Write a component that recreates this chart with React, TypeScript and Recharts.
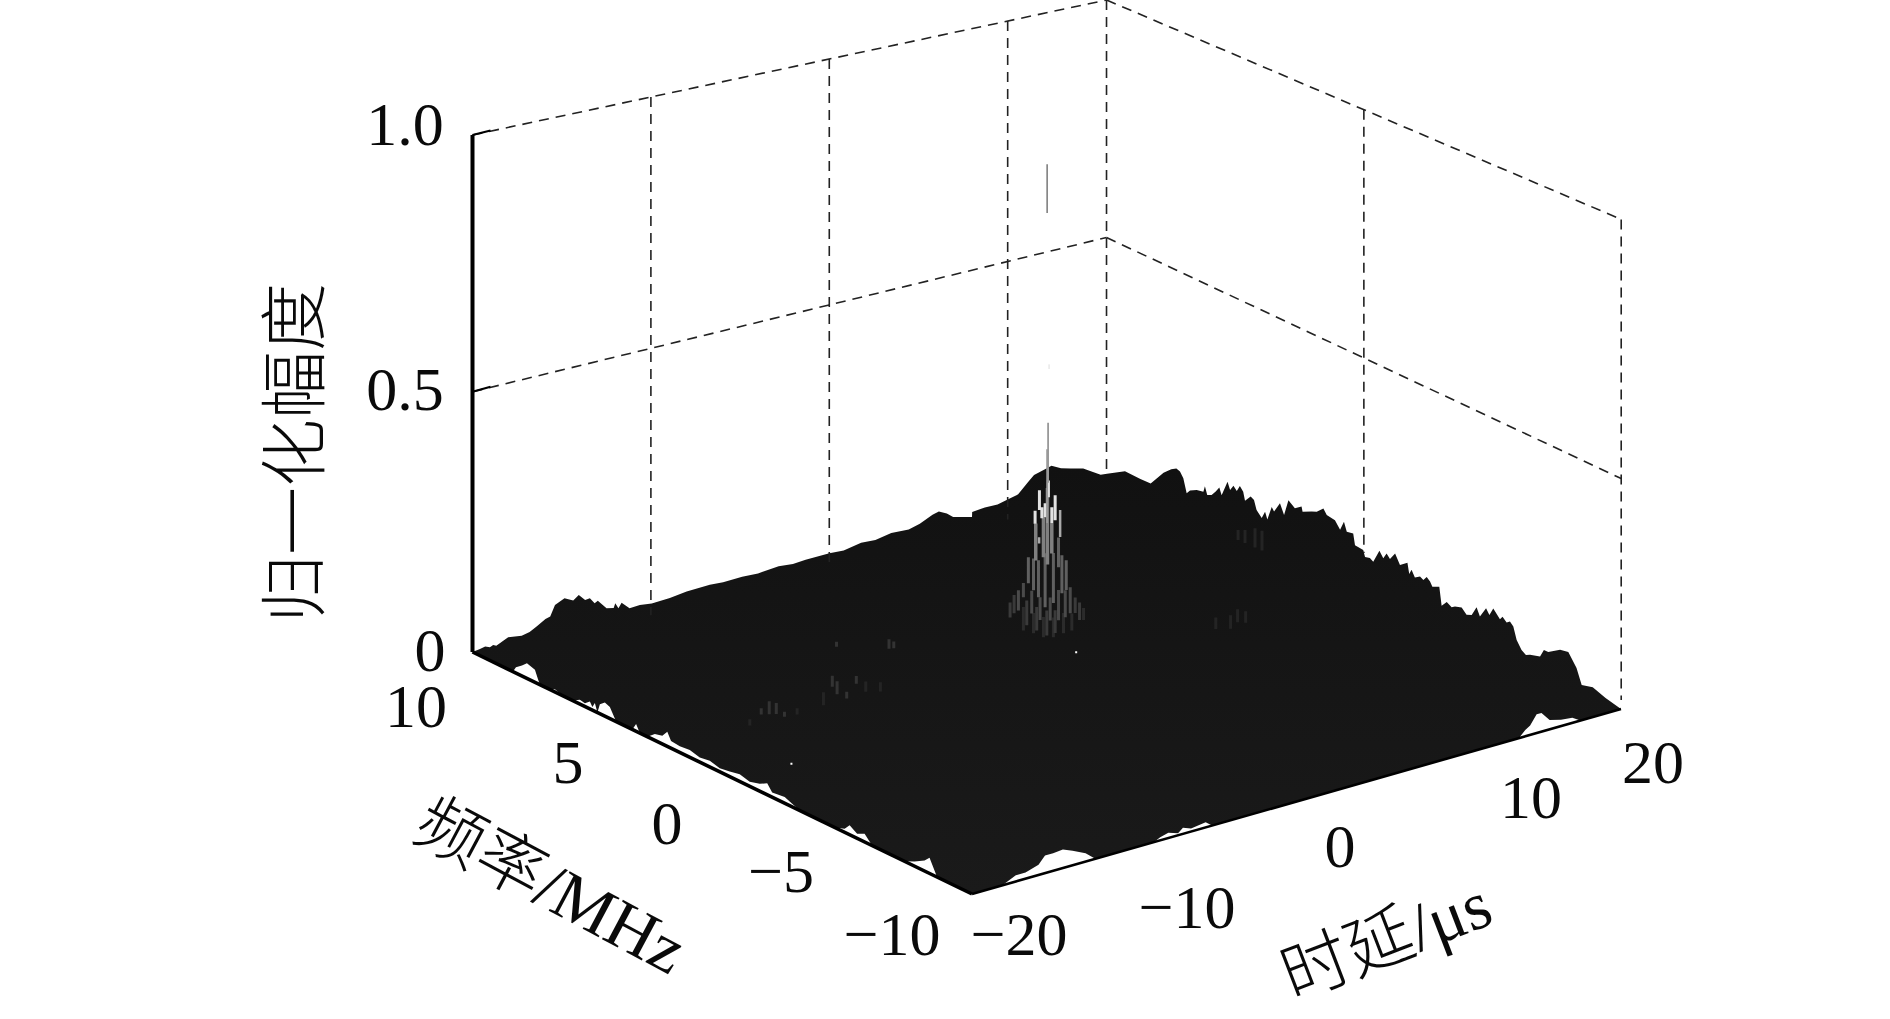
import React from 'react';
import { ComposedChart, XAxis, YAxis, Area, Line, Scatter } from 'recharts';

// ---- data (delay in µs, frequency in MHz, normalised amplitude) ----
const ridgeBackLeft: [number, number][] = [
  [-20, 0], [-19.53, 0.002], [-19.2, 0.004], [-18.9, 0], [-18.7, 0.003], [-18.5, 0], [-18.06, 0.006], [-17.75, 0.01], [-16.9, 0.006],
  [-16.4, 0.009], [-15.96, 0.016], [-15.4, 0.026], [-15.1, 0.028], [-14.8, 0.048], [-14.2, 0.056], [-13.65, 0.047], [-13.3, 0.055],
  [-12.9, 0.042], [-12.6, 0.043], [-12.3, 0.031], [-12.1, 0.034], [-11.55, 0.015], [-11.1, 0.012], [-11, 0.02], [-10.8, 0.009],
  [-10.6, 0.018], [-10.1, 0.003], [-9.45, 0.004], [-8.7, 0.001], [-7.56, 0.002], [-6.5, 0.006], [-5.04, 0.007], [-4.2, 0.005],
  [-3, 0.006], [-2, 0.004], [-0.7, 0.007], [0.2, 0.004], [1, 0.006], [2.5, 0.006], [3.4, 0.004], [4.5, 0.01], [5.4, 0.008], [6.4, 0.013],
  [7.5, 0.011], [8.2, 0.016], [9.0, 0.027], [9.4, 0.03], [9.9, 0.022], [10.3, 0.012], [11.5, 0.012], [12.3, 0.014], [13.1, 0.013],
  [13.8, 0.018], [14.4, 0.022], [15.0, 0.04], [15.4, 0.051], [16, 0.056], [16.5, 0.06], [17.1, 0.05], [17.7, 0.045], [18.5, 0.038], [19.6, 0.017], [20, 0.016],
];
const ridgeBackRight: [number, number][] = [
  [9.3, 0.036], [8.7, 0.034], [8.3, 0.034], [7.8, 0.066], [7.5, 0.079], [7.3, 0.085], [7.16, 0.082], [7.03, 0.072], [6.9, 0.046], [6.77, 0.054], [6.51, 0.061],
  [6.25, 0.063], [6.19, 0.075], [6.1, 0.06], [5.93, 0.064], [5.77, 0.074], [5.63, 0.085], [5.54, 0.072], [5.31, 0.103], [5.21, 0.089],
  [5.08, 0.1], [4.95, 0.093], [4.83, 0.105], [4.7, 0.097], [4.63, 0.081], [4.41, 0.094], [4.28, 0.09], [4.18, 0.073], [3.98, 0.062],
  [3.85, 0.077], [3.76, 0.064], [3.59, 0.092], [3.5, 0.085], [3.27, 0.106], [3.11, 0.087], [2.94, 0.119], [2.69, 0.109], [2.43, 0.118],
  [2.39, 0.109], [2.04, 0.117], [1.84, 0.121], [1.58, 0.133], [1.45, 0.123], [1.13, 0.12], [0.93, 0.106], [0.78, 0.125], [0.67, 0.108],
  [0.42, 0.11], [0.35, 0.089], [0.03, 0.087], [-0.04, 0.075], [-0.23, 0.077], [-0.36, 0.073], [-0.6, 0.099], [-0.75, 0.088], [-0.88, 0.1],
  [-1.01, 0.092], [-1.21, 0.107], [-1.4, 0.089], [-1.69, 0.1], [-1.76, 0.08], [-1.85, 0.09], [-1.98, 0.078], [-2.18, 0.084], [-2.31, 0.08],
  [-2.44, 0.089], [-2.57, 0.083], [-2.66, 0.075], [-2.93, 0.081], [-3.02, 0.046], [-3.22, 0.058], [-3.41, 0.052], [-3.54, 0.056], [-3.8, 0.06],
  [-3.99, 0.05], [-4.19, 0.054], [-4.38, 0.073], [-4.51, 0.058], [-4.75, 0.079], [-4.88, 0.069], [-5.03, 0.085], [-5.29, 0.07], [-5.39, 0.077],
  [-5.55, 0.069], [-5.68, 0.074], [-5.81, 0.067], [-5.94, 0.044], [-6.13, 0.029], [-6.3, 0.023], [-6.46, 0.027], [-6.85, 0.032], [-7, 0.048],
  [-7.17, 0.048], [-7.63, 0.062], [-7.95, 0.065], [-8.27, 0.041], [-8.47, 0.013], [-8.9, 0.018], [-9.4, 0.008], [-10, 0],
];
const gapFreqEdge: [number, number][] = [
  [8.38, 0], [8.26, 0.011], [8.02, 0.02], [7.82, 0.029], [7.5, 0.024], [7.38, 0.009], [7.3, 0], [6.9, 0], [6.7, 0.005], [6.5, 0.002], [6.0, 0],
  [5.7, 0.008], [5.5, 0.006], [5.3, 0.014], [5.2, 0.006], [5.1, 0.016], [5.0, 0], [4.9, 0.018], [4.7, 0.026], [4.5, 0.022], [4.25, 0],
  [3.6, 0], [3.45, 0.014], [3.3, 0], [3.0, 0], [2.7, 0.012], [2.4, 0.016], [2.2, 0.028], [2.05, 0.014], [1.7, 0.012], [1.3, 0.014],
  [0.9, 0.009], [0.5, 0.012], [0.1, 0.007], [-0.3, 0.01], [-0.7, 0.014], [-1.1, 0.009], [-1.5, 0.014], [-1.8, 0.022], [-2, 0.009], [-2.5, 0.012],
  [-2.9, 0.004], [-3.1, 0], [-4.5, 0], [-4.9, 0.007], [-5.1, 0.018], [-5.4, 0.009], [-5.7, 0.016], [-6, 0], [-7.3, 0], [-7.7, 0.009],
  [-8.1, 0.02], [-8.3, 0.03], [-8.6, 0],
];
const gapDelayEdge: [number, number][] = [
  [-18.1, 0], [-18, 0.002], [-17.3, 0.012], [-16.7, 0.012], [-15.9, 0.02], [-15.5, 0.034], [-15, 0.034], [-14.4, 0.036], [-13.8, 0.028],
  [-13, 0.016], [-12.7, 0.008], [-12.4, 0], [-8.8, 0], [-8.4, 0.006], [-7.9, 0.01], [-7.3, 0.004], [-7, 0.012], [-6.5, 0.006],
  [-5.6, 0.01], [-5.2, 0], [13.7, 0], [14.1, 0.012], [14.4, 0.018], [14.8, 0.036], [15.1, 0.036], [15.6, 0.018], [16.3, 0.012],
  [17, 0.01], [17.5, 0],
];
// spikes of the central tower: [delay, amplitude top, amplitude bottom]
const peakTip: [number, number, number][] = [[0.25, 0.998, 0.904]];
const peakSpeck: [number, number, number][] = [[0.37, 0.612, 0.603]];
const towerFaintest: [number, number, number][] = [
  [2.52, 0.125, 0.102], [-1.23, 0.159, 0.114], [-0.6, 0.142, 0.103], [0.02, 0.129, 0.09], [0.64, 0.123, 0.085], [1.27, 0.126, 0.087], [1.79, 0.121, 0.088],
];
const towerFaint: [number, number, number][] = [
  [-1.81, 0.187, 0.152], [2, 0.15, 0.12], [2.27, 0.138, 0.104], [-2.06, 0.175, 0.146], [-1.02, 0.17, 0.122], [-0.4, 0.152, 0.107], [0.75, 0.136, 0.092], [0.23, 0.14, 0.092],
];
const towerDark: [number, number, number][] = [
  [-1.23, 0.205, 0.178], [-1.54, 0.194, 0.155], [1.69, 0.172, 0.122], [-0.71, 0.186, 0.142], [-0.19, 0.169, 0.125], [0.44, 0.163, 0.119], [0.96, 0.173, 0.115], [1.38, 0.169, 0.117],
];
const towerMid: [number, number, number][] = [
  [0.96, 0.274, 0.217], [-0.6, 0.247, 0.186], [-0.29, 0.241, 0.17], [0.125, 0.251, 0.147], [0.64, 0.247, 0.151], [1.17, 0.238, 0.165], [1.44, 0.226, 0.169], [-0.92, 0.252, 0.202],
];
const towerGrey: [number, number, number][] = [
  [0.02, 0.321, 0.244], [0.54, 0.305, 0.247], [-0.46, 0.313, 0.242], [0.27, 0.375, 0.228],
];
const towerSilver: [number, number, number][] = [[1.06, 0.326, 0.274], [-0.25, 0.285, 0.273]];
const towerLight: [number, number, number][] = [
  [-0.23, 0.375, 0.337], [0.75, 0.357, 0.309], [-0.5, 0.338, 0.313], [0.54, 0.336, 0.305], [0.125, 0.347, 0.32], [-0.08, 0.341, 0.32], [0.33, 0.389, 0.357],
];
const towerTop: [number, number, number][] = [[0.31, 0.5, 0.385], [0.25, 0.45, 0.308]];
// faint bumps on the surface: [delay, frequency, amplitude top, amplitude bottom]
const ghostSpots: [number, number, number, number][] = [
  [-13.85, 2.06, 0.038, 0.013], [-13.41, 2.06, 0.031, 0.01], [-14.35, 2.06, 0.029, 0.017], [-12.9, 2.06, 0.01, 0],
  [-9.8, 2.13, 0.051, 0.03], [-9.5, 2.13, 0.038, 0.013], [-8.3, 2.13, 0.038, 0.023], [-8.9, 2.13, 0.013, 0],
  [-3.7, 3.75, 0.033, 0.015], [-3.4, 3.75, 0.026, 0.013], [-5.8, 4.5, 0.029, 0.019],
];
const ghostHaze: [number, number, number, number][] = [
  [20, 4.9, 0.019, 0], [20, 4.24, 0.037, 0], [20, 3.97, 0.038, 0], [20, 4.63, 0.025, 0],
  [12.6, 0.3, 0.03, 0.005], [12, 0.2, 0.026, 0], [11.4, 0.4, 0.022, 0], [13.1, 0.3, 0.022, 0],
  [-15, 2.1, 0.012, 0], [-12.2, 2.0, 0.012, 0], [-10.4, 2.1, 0.025, 0], [-7.6, 2.2, 0.02, 0], [-7, 2.0, 0.018, 0],
];
const whiteDots: [number, number, number, number][] = [[2.06, 0, 0.046, 0.042], [-16.5, -0.52, 0.002, -0.002]];
const ampTicks = [{ z: 1, label: '1.0' }, { z: 0.5, label: '0.5' }, { z: 0, label: '0' }];
const freqTicks = ['10', '5', '0', '−5', '−10'];
const delayTicks = ['−20', '−10', '0', '10', '20'];
const wallDelayGrid = [-10, 0, 10];
const wallFreqGrid = [0];
const axisTitles = ['归一化幅度', '频率/MHz', '时延/μs'];

// ---- layout ----
const W = 1890;
const H = 1019;
const L = { x: 472.5, y: 652 };
const F = { x: 972, y: 894 };
const R = { x: 1621, y: 709 };
const B = { x: 1107, y: 482 };
const Z_PX = 520;
const project = (d: number, f: number, a: number) => {
  const u = (d + 20) / 40;
  const v = (10 - f) / 20;
  const x = (1 - u) * ((1 - v) * L.x + v * F.x) + u * ((1 - v) * B.x + v * R.x);
  const y = (1 - u) * ((1 - v) * L.y + v * F.y) + u * ((1 - v) * B.y + v * R.y);
  return { x, y: y - a * Z_PX };
};
const frontY = (x: number) =>
  x <= F.x ? L.y + ((x - L.x) / (F.x - L.x)) * (F.y - L.y) : F.y + ((x - F.x) / (R.x - F.x)) * (R.y - F.y);
const backLeftY = (x: number) => L.y + ((x - L.x) / (B.x - L.x)) * (B.y - L.y);

const surfaceRows = [
  ...ridgeBackLeft.map(([d, a]) => project(d, 10, a)),
  ...ridgeBackRight.map(([f, a]) => project(20, f, a)),
  { x: F.x, y: NaN },
]
  .sort((p, q) => p.x - q.x)
  .map((p, i, all) => {
    let top = p.y;
    if (Number.isNaN(top)) top = all[i - 1].y;
    return { x: p.x, band: [frontY(p.x), top] };
  });

const gapRows = (pts: { x: number; y: number }[]) => pts.map((p) => ({ x: p.x, band: [frontY(p.x), p.y] }));
const gapLeftRows = gapRows(gapFreqEdge.map(([f, a]) => project(-20, f, a)));
const gapRightRows = gapRows(gapDelayEdge.map(([d, a]) => project(d, -10, a)));

const spikeRows = (list: [number, number, number][]) =>
  list.flatMap(([d, top, bot]) => {
    const a = project(d, 0, bot);
    const b = project(d, 0, top);
    return [{ x: a.x, y: a.y }, { x: b.x, y: b.y }, { x: b.x, y: null }];
  });
const ghostRows = (list: [number, number, number, number][]) =>
  list.flatMap(([d, f, top, bot]) => {
    const a = project(d, f, bot);
    const b = project(d, f, top);
    return [{ x: a.x, y: a.y }, { x: b.x, y: b.y }, { x: b.x, y: null }];
  });

// wall geometry (the printed walls do not sit exactly on the surface corners)
const WS = 1890 / 1568;
const wall = {
  lx: 392 * WS,
  bx: 918 * WS,
  rx: 1345 * WS,
  top: { l: 112 * WS, b: 0, r: 182 * WS },
  mid: { l: 325 * WS, b: 197 * WS, r: 397 * WS },
};
const lvl = (x0: number, y0: number, x1: number, y1: number) => [{ x: x0, y: y0 }, { x: x1, y: y1 }];
const wallLeftTop = lvl(wall.lx, wall.top.l, wall.bx, wall.top.b);
const wallRightTop = lvl(wall.bx, wall.top.b, wall.rx, wall.top.r);
const wallLeftMid = lvl(wall.lx, wall.mid.l, wall.bx, wall.mid.b);
const wallRightMid = lvl(wall.bx, wall.mid.b, wall.rx, wall.mid.r);
const leftX = (d: number) => wall.lx + (d + 20) * 148 * WS / 10;
const rightX = (f: number) => wall.bx + ((10 - f) / 20) * (wall.rx - wall.bx);
const topLeftAt = (x: number) => wall.top.l + ((x - wall.lx) / (wall.bx - wall.lx)) * (wall.top.b - wall.top.l);
const topRightAt = (x: number) => wall.top.b + ((x - wall.bx) / (wall.rx - wall.bx)) * (wall.top.r - wall.top.b);
const verticals = [
  ...wallDelayGrid.map((d) => lvl(leftX(d), topLeftAt(leftX(d)), leftX(d), backLeftY(leftX(d)) + 11)),
  lvl(wall.bx, 0, wall.bx, 474),
  ...wallFreqGrid.map((f) => lvl(rightX(f), topRightAt(rightX(f)), rightX(f), 553)),
  lvl(wall.rx, wall.top.r, wall.rx, 700),
];

const zPos = [[405, 124], [405, 389], [430, 650]];
const freqPos = [[416, 706], [568, 762], [667, 823], [781, 871], [892, 934]];
const delayPos = [[1019, 934], [1187, 907], [1340, 846], [1531, 797], [1653, 762]];
const textRows = [
  ...ampTicks.map((t, i) => ({ x: zPos[i][0], y: zPos[i][1], label: t.label })),
  ...freqTicks.map((t, i) => ({ x: freqPos[i][0], y: freqPos[i][1], label: t })),
  ...delayTicks.map((t, i) => ({ x: delayPos[i][0], y: delayPos[i][1], label: t })),
];
const titleRows = [
  { x: 296, y: 453, label: axisTitles[0], rot: -90 },
  { x: 551, y: 886, label: axisTitles[1], rot: 28 },
  { x: 1386, y: 940, label: axisTitles[2], rot: -21 },
];
const FONT = '"Liberation Serif", "Noto Sans CJK SC", serif';
const TickText = (p: any) => (
  <text x={p.cx} y={p.cy} fontFamily={FONT} fontSize={62} fill="#0a0a0a" textAnchor="middle" dominantBaseline="central">
    {p.payload.label}
  </text>
);
const TitleText = (p: any) => (
  <text
    x={p.cx}
    y={p.cy}
    fontFamily={FONT}
    fontSize={68}
    fontWeight={300}
    fill="#0a0a0a"
    textAnchor="middle"
    dominantBaseline="central"
    transform={`rotate(${p.payload.rot} ${p.cx} ${p.cy})`}
  >
    {p.payload.label}
  </text>
);
const dashed = { stroke: '#222', strokeWidth: 1.6, strokeDasharray: '10 7', dot: false, isAnimationActive: false, legendType: 'none' as const };
const spike = (key: string, rows: any[], stroke: string, strokeWidth: number) => (
  <Line key={key} name={key} data={rows} dataKey="y" stroke={stroke} strokeWidth={strokeWidth} dot={false} isAnimationActive={false} />
);

export default function App() {
  return (
    <div style={{ position: 'absolute', left: 0, top: 0, width: W, height: H, background: '#fff' }}>
      <ComposedChart width={W} height={H} margin={{ top: 0, right: 0, bottom: 0, left: 0 }} data={surfaceRows}>
        <defs>
          <linearGradient id="surfaceFill" x1="0" y1="0" x2="0" y2="1">
            <stop offset="0%" stopColor="#111111" />
            <stop offset="30%" stopColor="#141414" />
            <stop offset="100%" stopColor="#1a1a1a" />
          </linearGradient>
        </defs>
        <XAxis type="number" dataKey="x" domain={[0, W]} hide allowDuplicatedCategory />
        <YAxis type="number" domain={[0, H]} reversed hide />
        <Line name="wall-lt" data={wallLeftTop} dataKey="y" {...dashed} />
        <Line name="wall-rt" data={wallRightTop} dataKey="y" {...dashed} />
        <Line name="wall-lm" data={wallLeftMid} dataKey="y" {...dashed} />
        <Line name="wall-rm" data={wallRightMid} dataKey="y" {...dashed} />
        {verticals.map((v, i) => (
          <Line key={i} name={`wall-v${i}`} data={v} dataKey="y" {...dashed} />
        ))}
        <Area
          name="surface"
          data={surfaceRows}
          dataKey="band"
          type="linear"
          stroke="none"
          fill="url(#surfaceFill)"
          fillOpacity={1}
          isAnimationActive={false}
          dot={false}
          activeDot={false}
        />
        <Area name="gap-f" data={gapLeftRows} dataKey="band" type="linear" stroke="none" fill="#fff" fillOpacity={1} isAnimationActive={false} />
        <Area name="gap-d" data={gapRightRows} dataKey="band" type="linear" stroke="none" fill="#fff" fillOpacity={1} isAnimationActive={false} />
        {spike('haze', ghostRows(ghostHaze), '#242424', 3)}
        {spike('spots', ghostRows(ghostSpots), '#333333', 3)}
        {spike('faintest', spikeRows(towerFaintest), '#2b2b2b', 3)}
        {spike('faint', spikeRows(towerFaint), '#3a3a3a', 3)}
        {spike('dark', spikeRows(towerDark), '#4a4a4a', 3)}
        {spike('mid', spikeRows(towerMid), '#606060', 3)}
        {spike('grey', spikeRows(towerGrey), '#808080', 3.5)}
        {spike('silver', spikeRows(towerSilver), '#aaaaaa', 2.5)}
        {spike('light', spikeRows(towerLight), '#e2e2e2', 3)}
        {spike('top', spikeRows(towerTop), '#999999', 1.8)}
        {spike('tip', spikeRows(peakTip), '#777777', 1.5)}
        {spike('speck', spikeRows(peakSpeck), '#dddddd', 1)}
        {spike('dots', ghostRows(whiteDots), '#ffffff', 2)}
        <Line name="z-axis" data={lvl(wall.lx, wall.top.l, wall.lx, L.y)} dataKey="y" stroke="#000" strokeWidth={4} dot={false} isAnimationActive={false} />
        <Line name="tick-1" data={lvl(wall.lx, wall.top.l, wall.lx + 18, wall.top.l - 4.5)} dataKey="y" stroke="#000" strokeWidth={2} dot={false} isAnimationActive={false} />
        <Line name="tick-05" data={lvl(wall.lx, wall.mid.l, wall.lx + 18, wall.mid.l - 5)} dataKey="y" stroke="#000" strokeWidth={2} dot={false} isAnimationActive={false} />
        <Line name="edge-f" data={[L, F]} dataKey="y" stroke="#000" strokeWidth={3.6} dot={false} isAnimationActive={false} />
        <Line name="edge-d" data={[F, R]} dataKey="y" stroke="#000" strokeWidth={2.6} dot={false} isAnimationActive={false} />
        <Scatter name="ticks" data={textRows} dataKey="y" shape={TickText} isAnimationActive={false} />
        <Scatter name="titles" data={titleRows} dataKey="y" shape={TitleText} isAnimationActive={false} />
      </ComposedChart>
    </div>
  );
}
